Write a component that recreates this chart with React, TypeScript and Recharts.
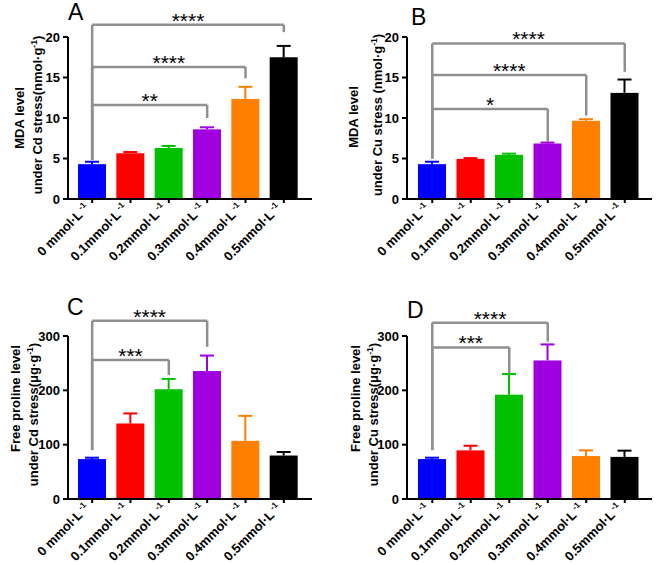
import React from 'react';
import { BarChart, Bar, XAxis, YAxis, ReferenceLine, Cell } from 'recharts';

const FONT = '"Liberation Sans", Arial, sans-serif';

// categories and colours shared by all four panels
const categories = ['0 mmol·L', '0.1mmol·L', '0.2mmol·L', '0.3mmol·L', '0.4mmol·L', '0.5mmol·L'];
const barColors = ['#0000ff', '#ff0000', '#00c000', '#a000e0', '#ff8000', '#000000'];

// A: MDA under Cd
const mdaCd = [4.3, 5.65, 6.3, 8.6, 12.35, 17.5];
const mdaCdSd = [0.3, 0.15, 0.25, 0.25, 1.5, 1.4];
// B: MDA under Cu
const mdaCu = [4.3, 4.95, 5.45, 6.85, 9.65, 13.1];
const mdaCuSd = [0.3, 0.1, 0.15, 0.12, 0.2, 1.65];
// C: proline under Cd
const proCd = [73.5, 139, 202, 235.5, 107, 80];
const proCdSd = [2.5, 18.5, 19, 28.5, 46, 6.5];
// D: proline under Cu
const proCu = [73.5, 89.5, 192, 255, 79, 77.5];
const proCuSd = [2.5, 8.5, 38, 29.5, 10.5, 11.5];

const mdaTicks = [0, 5, 10, 15, 20];
const proTicks = [0, 100, 200, 300];

// significance brackets: from/to index, bar level, left/right foot, stars
const bracketsA = [
  { from: 0, to: 5, level: 21.5, left: 4.8, right: 20.6, stars: '****' },
  { from: 0, to: 4, level: 16.3, left: 4.8, right: 14.9, stars: '****' },
  { from: 0, to: 3, level: 11.6, left: 4.8, right: 10.0, stars: '**' },
];
const bracketsB = [
  { from: 0, to: 5, level: 19.2, left: 5.0, right: 15.7, stars: '****' },
  { from: 0, to: 4, level: 15.3, left: 5.0, right: 10.3, stars: '****' },
  { from: 0, to: 3, level: 11.1, left: 5.0, right: 7.1, stars: '*' },
];
const bracketsC = [
  { from: 0, to: 3, level: 328, left: 90, right: 280, stars: '****' },
  { from: 0, to: 2, level: 256, left: 90, right: 228, stars: '***' },
];
const bracketsD = [
  { from: 0, to: 3, level: 324.5, left: 90, right: 289.6, stars: '****' },
  { from: 0, to: 2, level: 279, left: 90, right: 232, stars: '***' },
];

const makeRows = (vals: number[], sd: number[]) =>
  categories.map((name, i) => ({ name, v: vals[i], sd: sd[i] }));

const ErrBar = (props: any) => {
  const { x, y, width, height, fill, payload } = props;
  if (!payload || !height) return null;
  const k = height / payload.v;
  const top = y - payload.sd * k;
  const cx = x + width / 2;
  return (
    <g>
      <rect x={x} y={y} width={width} height={height} fill={fill} />
      <line x1={cx} x2={cx} y1={y} y2={top} stroke={fill} strokeWidth={2} />
      <line x1={cx - 7} x2={cx + 7} y1={top} y2={top} stroke={fill} strokeWidth={2} />
    </g>
  );
};

const XTick = ({ x, y, payload }: any) => (
  <g transform={`translate(${x - 2},${y + 4})`}>
    <text textAnchor="end" transform="rotate(-45)" fontSize={13} fontWeight="bold" fontFamily={FONT} fill="#000">
      {payload.value}
      <tspan dx={2} dy={-5} fontSize={8.5}>-1</tspan>
    </text>
  </g>
);

const YTick = ({ x, y, payload }: any) => (
  <text x={x - 1} y={y + 4.5} textAnchor="end" fontSize={13} fontWeight="bold" fontFamily={FONT} fill="#000">
    {payload.value}
  </text>
);

const Stars = ({ viewBox, text }: any) => {
  if (!viewBox) return null;
  const cx = viewBox.x + viewBox.width / 2;
  return (
    <text x={cx} y={viewBox.y + 3} textAnchor="middle" fontSize={21} fontFamily={FONT} fill="#000">
      {text}
    </text>
  );
};

const YLabel = ({ viewBox, lines }: any) => {
  if (!viewBox) return null;
  const plotLeft = viewBox.x + viewBox.width;
  const midY = viewBox.y + viewBox.height / 2;
  return (
    <g>
      {lines.map((l: any, i: number) => {
        const bx = plotLeft - l.off + 4.5;
        const cy = midY + l.shift;
        return (
          <text key={i} x={bx} y={cy} transform={`rotate(-90, ${bx}, ${cy})`} textAnchor="middle"
            fontSize={13} fontWeight="bold" fontFamily={FONT} fill="#000">
            {l.text}
            {l.sup && <tspan dy={-5} fontSize={8.5}>{l.sup}</tspan>}
            {l.sup && <tspan dy={5}>)</tspan>}
          </text>
        );
      })}
    </g>
  );
};

function Panel({ left, top, width, height, margin, vals, sd, ticks, brackets, yLines, xPad }: any) {
  const data = makeRows(vals, sd);
  const max = ticks[ticks.length - 1];
  const gray = '#8f8f8f';
  const lines = brackets.flatMap((b: any, i: number) => {
    const c0 = categories[b.from];
    const c1 = categories[b.to];
    return [
      <ReferenceLine key={`h${i}`} segment={[{ x: c0, y: b.level }, { x: c1, y: b.level }]}
        stroke={gray} strokeWidth={2.5} ifOverflow="visible" label={<Stars text={b.stars} />} />,
      <ReferenceLine key={`l${i}`} segment={[{ x: c0, y: b.left }, { x: c0, y: b.level }]}
        stroke={gray} strokeWidth={2.5} ifOverflow="visible" />,
      <ReferenceLine key={`r${i}`} segment={[{ x: c1, y: b.right }, { x: c1, y: b.level }]}
        stroke={gray} strokeWidth={2.5} ifOverflow="visible" />,
    ];
  });
  return (
    <div style={{ position: 'absolute', left, top }}>
      <BarChart width={width} height={height} data={data} margin={margin}>
        <XAxis dataKey="name" interval={0} height={margin.xh} padding={xPad}
          axisLine={{ stroke: '#000', strokeWidth: 2 }} tickLine={{ stroke: '#000', strokeWidth: 2 }}
          tickSize={4} tick={<XTick />} />
        <YAxis type="number" domain={[0, max]} ticks={ticks} width={30} allowDataOverflow
          axisLine={{ stroke: '#000', strokeWidth: 2 }} tickLine={{ stroke: '#000', strokeWidth: 2 }}
          tickSize={5} tick={<YTick />} label={<YLabel lines={yLines} />} />
        <Bar dataKey="v" barSize={28} shape={<ErrBar />} isAnimationActive={false}>
          {data.map((d, i) => <Cell key={d.name} fill={barColors[i]} />)}
        </Bar>
        {lines}
      </BarChart>
    </div>
  );
}

export default function App() {
  const letter = { fontSize: 23, fontFamily: FONT, fill: '#000' };
  return (
    <div style={{ position: 'absolute', left: 0, top: 0, width: 656, height: 565, background: '#fff' }}>
      <Panel left={0} top={0} width={328} height={280}
        margin={{ top: 37, right: 16, bottom: 21, left: 38, xh: 60 }} xPad={{ left: 5, right: 9 }}
        vals={mdaCd} sd={mdaCdSd} ticks={mdaTicks} brackets={bracketsA}
        yLines={[{ text: 'MDA level', off: 49, shift: 0 }, { text: 'under Cd stress(nmol·g', sup: '-1', off: 31, shift: -3 }]} />
      <Panel left={330} top={0} width={326} height={280}
        margin={{ top: 37, right: 4, bottom: 21, left: 47, xh: 60 }} xPad={{ left: 6, right: 8 }}
        vals={mdaCu} sd={mdaCuSd} ticks={mdaTicks} brackets={bracketsB}
        yLines={[{ text: 'MDA level', off: 54, shift: -1 }, { text: 'under Cu stress (nmol·g', sup: '-1', off: 30, shift: -3 }]} />
      <Panel left={0} top={280} width={328} height={285}
        margin={{ top: 56, right: 16, bottom: 16, left: 38, xh: 50 }} xPad={{ left: 5, right: 9 }}
        vals={proCd} sd={proCdSd} ticks={proTicks} brackets={bracketsC}
        yLines={[{ text: 'Free proline  level', off: 53, shift: -19 }, { text: 'under Cd stress(μg·g', sup: '-1', off: 35, shift: -3 }]} />
      <Panel left={330} top={280} width={326} height={285}
        margin={{ top: 56, right: 4, bottom: 16, left: 47, xh: 50 }} xPad={{ left: 6, right: 8 }}
        vals={proCu} sd={proCuSd} ticks={proTicks} brackets={bracketsD}
        yLines={[{ text: 'Free proline  level', off: 52, shift: -19 }, { text: 'under Cu stress(μg·g', sup: '-1', off: 34, shift: -3 }]} />
      <svg width={656} height={565} style={{ position: 'absolute', left: 0, top: 0, pointerEvents: 'none' }}>
        <text x={68} y={20} {...letter}>A</text>
        <text x={411} y={25} {...letter}>B</text>
        <text x={67} y={315} {...letter}>C</text>
        <text x={407} y={318} {...letter}>D</text>
      </svg>
    </div>
  );
}
